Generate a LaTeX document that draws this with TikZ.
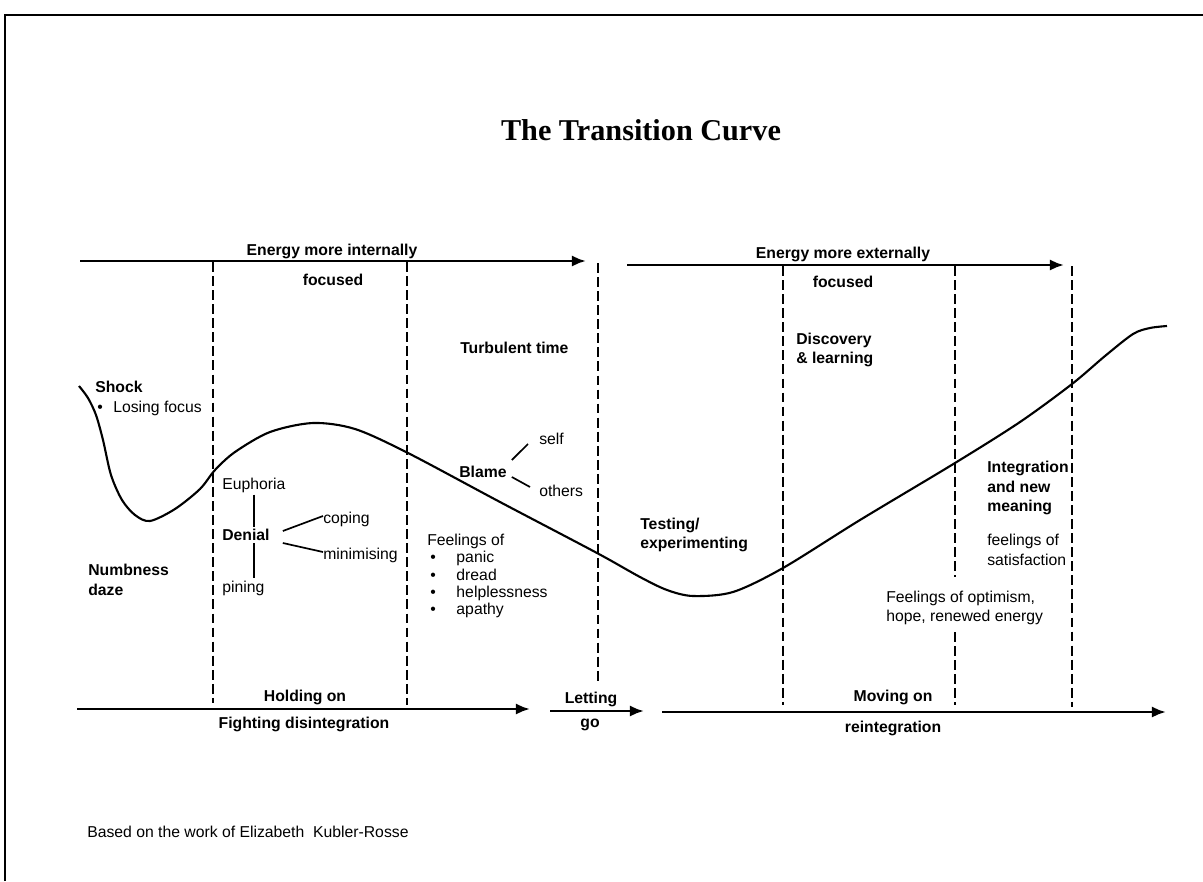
\documentclass[tikz,border=0pt]{standalone}
\usepackage{fontspec}
\setmainfont{Liberation Sans}
\newfontfamily\titlefont{Liberation Serif}
\usetikzlibrary{arrows.meta,calc}
\tikzset{>={Latex[length=10pt,width=8pt]}}
\tikzstyle{lbl}=[inner sep=0.5mm,align=left,font=\fontsize{11.2}{14}\selectfont]
\tikzstyle{blbl}=[lbl,font=\fontsize{11.2}{14}\selectfont\bfseries]
\tikzstyle{flow}=[->,line width=2pt]
\tikzstyle{phase}=[line width=1pt,dash pattern=on 7pt off 3pt]
\tikzstyle{twig}=[line width=1.2pt]
\tikzstyle{curve}=[line width=1.5pt]
\newcommand{\blt}{\hspace{0.08cm}\makebox[0.65cm][l]{\textbullet}}

\begin{document}
\begin{tikzpicture}[x=0.025cm,y=-0.025cm]
\useasboundingbox (0,0) rectangle (1203,881);

% frame
\draw[line width=2pt] (5,881) -- (5,15) -- (1203,15);

\node[font=\titlefont\bfseries\fontsize{21.5}{26}\selectfont] (title) at (641,130) {The Transition Curve};

% energy arrows on top
\coordinate (in0) at (80,261);
\coordinate (in1) at (586,261);
\coordinate (ex0) at (627,265);
\coordinate (ex1) at (1064,265);
\draw[flow] (in0) -- (in1);
\draw[flow] (ex0) -- (ex1);

\node[blbl] (energyin) at (332,251) {Energy more internally};
\node[blbl] (focusin) at (333,280) {focused};
\node[blbl] (energyex) at (843,254) {Energy more externally};
\node[blbl] (focusex) at (843,282) {focused};

% phase dividers
\foreach \x/\ya/\yb in {213/262/703, 407/262/705, 598/263/683, 783/266/705, 955/266/577, 955/632/705, 1072/266/707} {
	\draw[phase] (\x,\ya) -- (\x,\yb);
};

% the curve
\draw[curve] plot[smooth,tension=0.5] coordinates {(79,386) (88,398) (96,415) (103,440) (111,475) (122,500) (135,515) (150,521) (175,509) (200,489) (215,470) (235,452) (270,432) (313,423) (355,429) (408,453) (500,502) (597,553) (640,577) (667,590) (693,596) (733,592) (783,568) (860,520) (955,463) (1020,422) (1072,384) (1105,356) (1133,334) (1150,328) (1167,326)};

% shock and denial
\node[blbl,anchor=west] (shock) at (93,387) {Shock};
\node[lbl,anchor=west] (losing) at (93,408) {\hspace{0.05cm}\makebox[0.4cm][l]{\textbullet}Losing focus};
\node[blbl,anchor=west] (numb) at (86,580) {Numbness\\daze};

\node[lbl,anchor=west] (euphoria) at (220,485) {Euphoria};
\node[blbl,anchor=west] (denial) at (220,535) {Denial};
\node[lbl,anchor=west] (pining) at (220,588) {pining};
\node[lbl,anchor=west] (coping) at (321,519) {coping};
\node[lbl,anchor=west] (minim) at (321,555) {minimising};

\draw[twig] (euphoria.south) -- (euphoria.south |- denial.north);
\draw[twig] (euphoria.south |- denial.south) -- (euphoria.south |- pining.north);
\draw[twig] ($(denial.east)+(11,-4)$) -- ($(coping.west)+(2,-3)$);
\draw[twig] ($(denial.east)+(11,8)$) -- ($(minim.west)+(2,-3)$);

% turbulent time
\node[blbl,anchor=west] (turb) at (458,348) {Turbulent time};
\node[blbl,anchor=west] (blame) at (457,472) {Blame};
\node[lbl,anchor=west] (self) at (537,439) {self};
\node[lbl,anchor=west] (others) at (537,491) {others};
\draw[twig] ($(blame.east)+(3,-12)$) -- ($(self.west)+(-9,5)$);
\draw[twig] ($(blame.east)+(3,5)$) -- ($(others.west)+(-7,-4)$);

\node[lbl,anchor=west,font=\fontsize{11.2}{12.2}\selectfont] (feel) at (425,576)
	{Feelings of\\\blt panic\\\blt dread\\\blt helplessness\\\blt apathy};

% moving on
\node[blbl,anchor=west] (testing) at (638,535) {Testing/\\experimenting};
\node[blbl,anchor=west] (discov) at (794,350) {Discovery\\\& learning};
\node[blbl,anchor=west] (integ) at (985,488) {Integration\\and new\\meaning};
\node[lbl,anchor=west] (satisf) at (985,550) {feelings of\\satisfaction};
\node[lbl,anchor=west] (optim) at (884,608) {Feelings of optimism,\\hope, renewed energy};

% bottom arrows
\coordinate (hold0) at (77,709);
\coordinate (hold1) at (530,709);
\coordinate (let0) at (550,711);
\coordinate (let1) at (644,711);
\coordinate (move0) at (662,712);
\coordinate (move1) at (1166,712);
\draw[flow] (hold0) -- (hold1);
\draw[flow] (let0) -- (let1);
\draw[flow] (move0) -- (move1);

\node[blbl] (holding) at (305,697) {Holding on};
\node[blbl] (fighting) at (304,724) {Fighting disintegration};
\node[blbl] (letting) at (591,699) {Letting};
\node[blbl] (go) at (590,725) {go};
\node[blbl] (moving) at (893,697) {Moving on};
\node[blbl] (reint) at (893,728) {reintegration};

\node[lbl,anchor=west] (based) at (85,832) {Based on the work of Elizabeth\ \ Kubler-Rosse};

\end{tikzpicture}
\end{document}
